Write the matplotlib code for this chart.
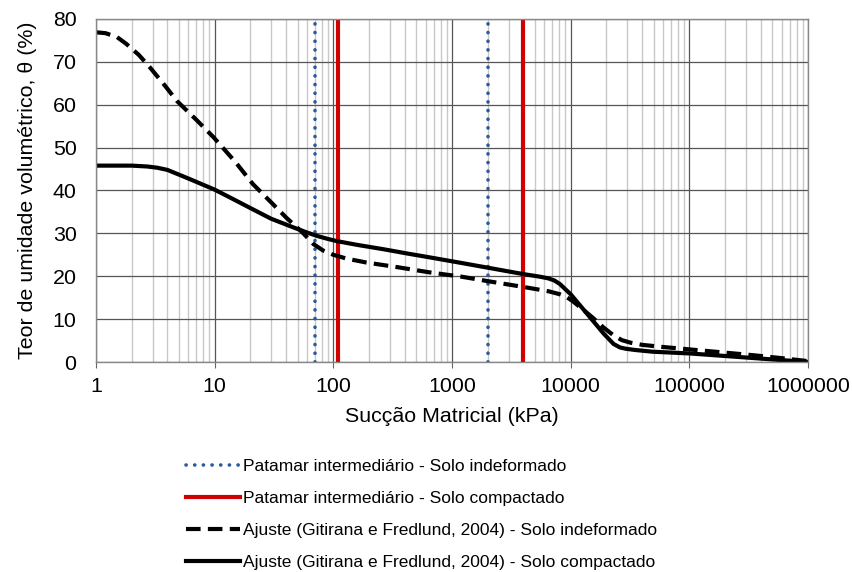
import matplotlib
matplotlib.use("Agg")
import matplotlib.pyplot as plt
from matplotlib.ticker import LogLocator, NullFormatter

plt.rcParams['font.family'] = ['Liberation Sans', 'DejaVu Sans']

# Patamares intermediários (kPa)
patamar_indeformado = [70, 2000]
patamar_compactado = [110, 4000]

# Ajuste - Solo indeformado
suc_ind = [1.0, 1.2, 1.5, 1.8, 2.3, 2.85, 3.8, 4.8, 7.0, 9.8, 15, 21, 30, 40, 55, 68, 82, 100, 130,
           190, 350, 650, 1200, 1960, 4000, 6500, 8100, 9300, 10400, 12500, 15400, 19000, 23000,
           27000, 32000, 40000, 60000, 95000, 180000, 340000, 600000, 1000000]
th_ind = [76.9, 76.7, 75.8, 74.2, 71.6, 68.7, 64.5, 60.9, 56.5, 52.4, 46.6, 41.5, 37.2, 33.7, 30.2,
          27.5, 26.0, 25.0, 24.1, 23.2, 22.1, 20.9, 19.9, 18.9, 17.5, 16.5, 15.8, 15.1, 14.2, 12.4,
          10.3, 8.0, 6.2, 5.1, 4.5, 4.0, 3.5, 3.0, 2.3, 1.6, 0.9, 0.2]

# Ajuste - Solo compactado
suc_comp = [1.0, 2.0, 2.7, 3.3, 4.0, 6.0, 10, 15, 21, 30, 46, 60, 73, 90, 107, 160, 265, 420, 650,
            1200, 2000, 4000, 5500, 6500, 7300, 8100, 9000, 10000, 12000, 15000, 19000, 23000, 26000,
            29000, 35000, 49000, 100000, 200000, 500000, 1000000]
th_comp = [45.8, 45.8, 45.6, 45.3, 44.8, 42.8, 40.2, 37.7, 35.6, 33.4, 31.4, 30.2, 29.4, 28.7, 28.2,
           27.3, 26.3, 25.3, 24.4, 23.1, 22.0, 20.5, 19.9, 19.5, 19.0, 18.2, 17.0, 15.8, 13.2, 10.0,
           6.6, 4.2, 3.4, 3.1, 2.8, 2.4, 2.0, 1.4, 0.6, 0.0]

fig = plt.figure(figsize=(8.53, 5.72), dpi=100)
ax = fig.add_axes([96/853, 1-362/572, 712/853, 343/572])

ax.set_xscale('log')
ax.set_xlim(1, 1e6)
ax.set_ylim(0, 80)

ax.set_xticks([1, 10, 100, 1000, 10000, 100000, 1000000])
ax.set_xticklabels(['1', '10', '100', '1000', '10000', '100000', '1000000'])
ax.xaxis.set_minor_locator(LogLocator(base=10, subs=range(2, 10), numticks=100))
ax.xaxis.set_minor_formatter(NullFormatter())
ax.set_yticks(range(0, 81, 10))

ax.grid(True, which='minor', axis='x', color='#c8c8c8', lw=1.0)
ax.grid(True, which='major', axis='both', color='#555555', lw=0.9)
ax.set_axisbelow(True)
for s in ax.spines.values():
    s.set_color('#888888')
    s.set_linewidth(1.0)

ax.tick_params(axis='x', which='major', labelsize=15.4, length=4, color='#666666', pad=7)
ax.tick_params(axis='x', which='minor', length=0)
ax.tick_params(axis='y', labelsize=15.4, length=0, pad=14)

first = True
for v in patamar_indeformado:
    ax.axvline(v, color='#2e5a9a', lw=2.6, ls=(0, (0.05, 2.35)), dash_capstyle='round',
               label='Patamar intermediário - Solo indeformado' if first else None)
    first = False
first = True
for v in patamar_compactado:
    ax.axvline(v, color='#d00000', lw=3.0,
               label='Patamar intermediário - Solo compactado' if first else None)
    first = False

ax.plot(suc_ind, th_ind, color='black', lw=3.0, ls=(0, (3.5, 1.75)),
        label='Ajuste (Gitirana e Fredlund, 2004) - Solo indeformado')
ax.plot(suc_comp, th_comp, color='black', lw=3.0,
        label='Ajuste (Gitirana e Fredlund, 2004) - Solo compactado')

ax.set_xlabel('Sucção Matricial (kPa)', fontsize=15.4, labelpad=8)
ax.set_ylabel('Teor de umidade volumétrico, θ (%)', fontsize=15.4, labelpad=11)

ax.legend(loc='upper left', bbox_to_anchor=(179/853, 1-452/572), bbox_transform=fig.transFigure,
          frameon=False, fontsize=12.5, handlelength=3.1, handletextpad=0.17,
          labelspacing=0.97, borderaxespad=0)

fig.savefig('out.png', dpi=100)
